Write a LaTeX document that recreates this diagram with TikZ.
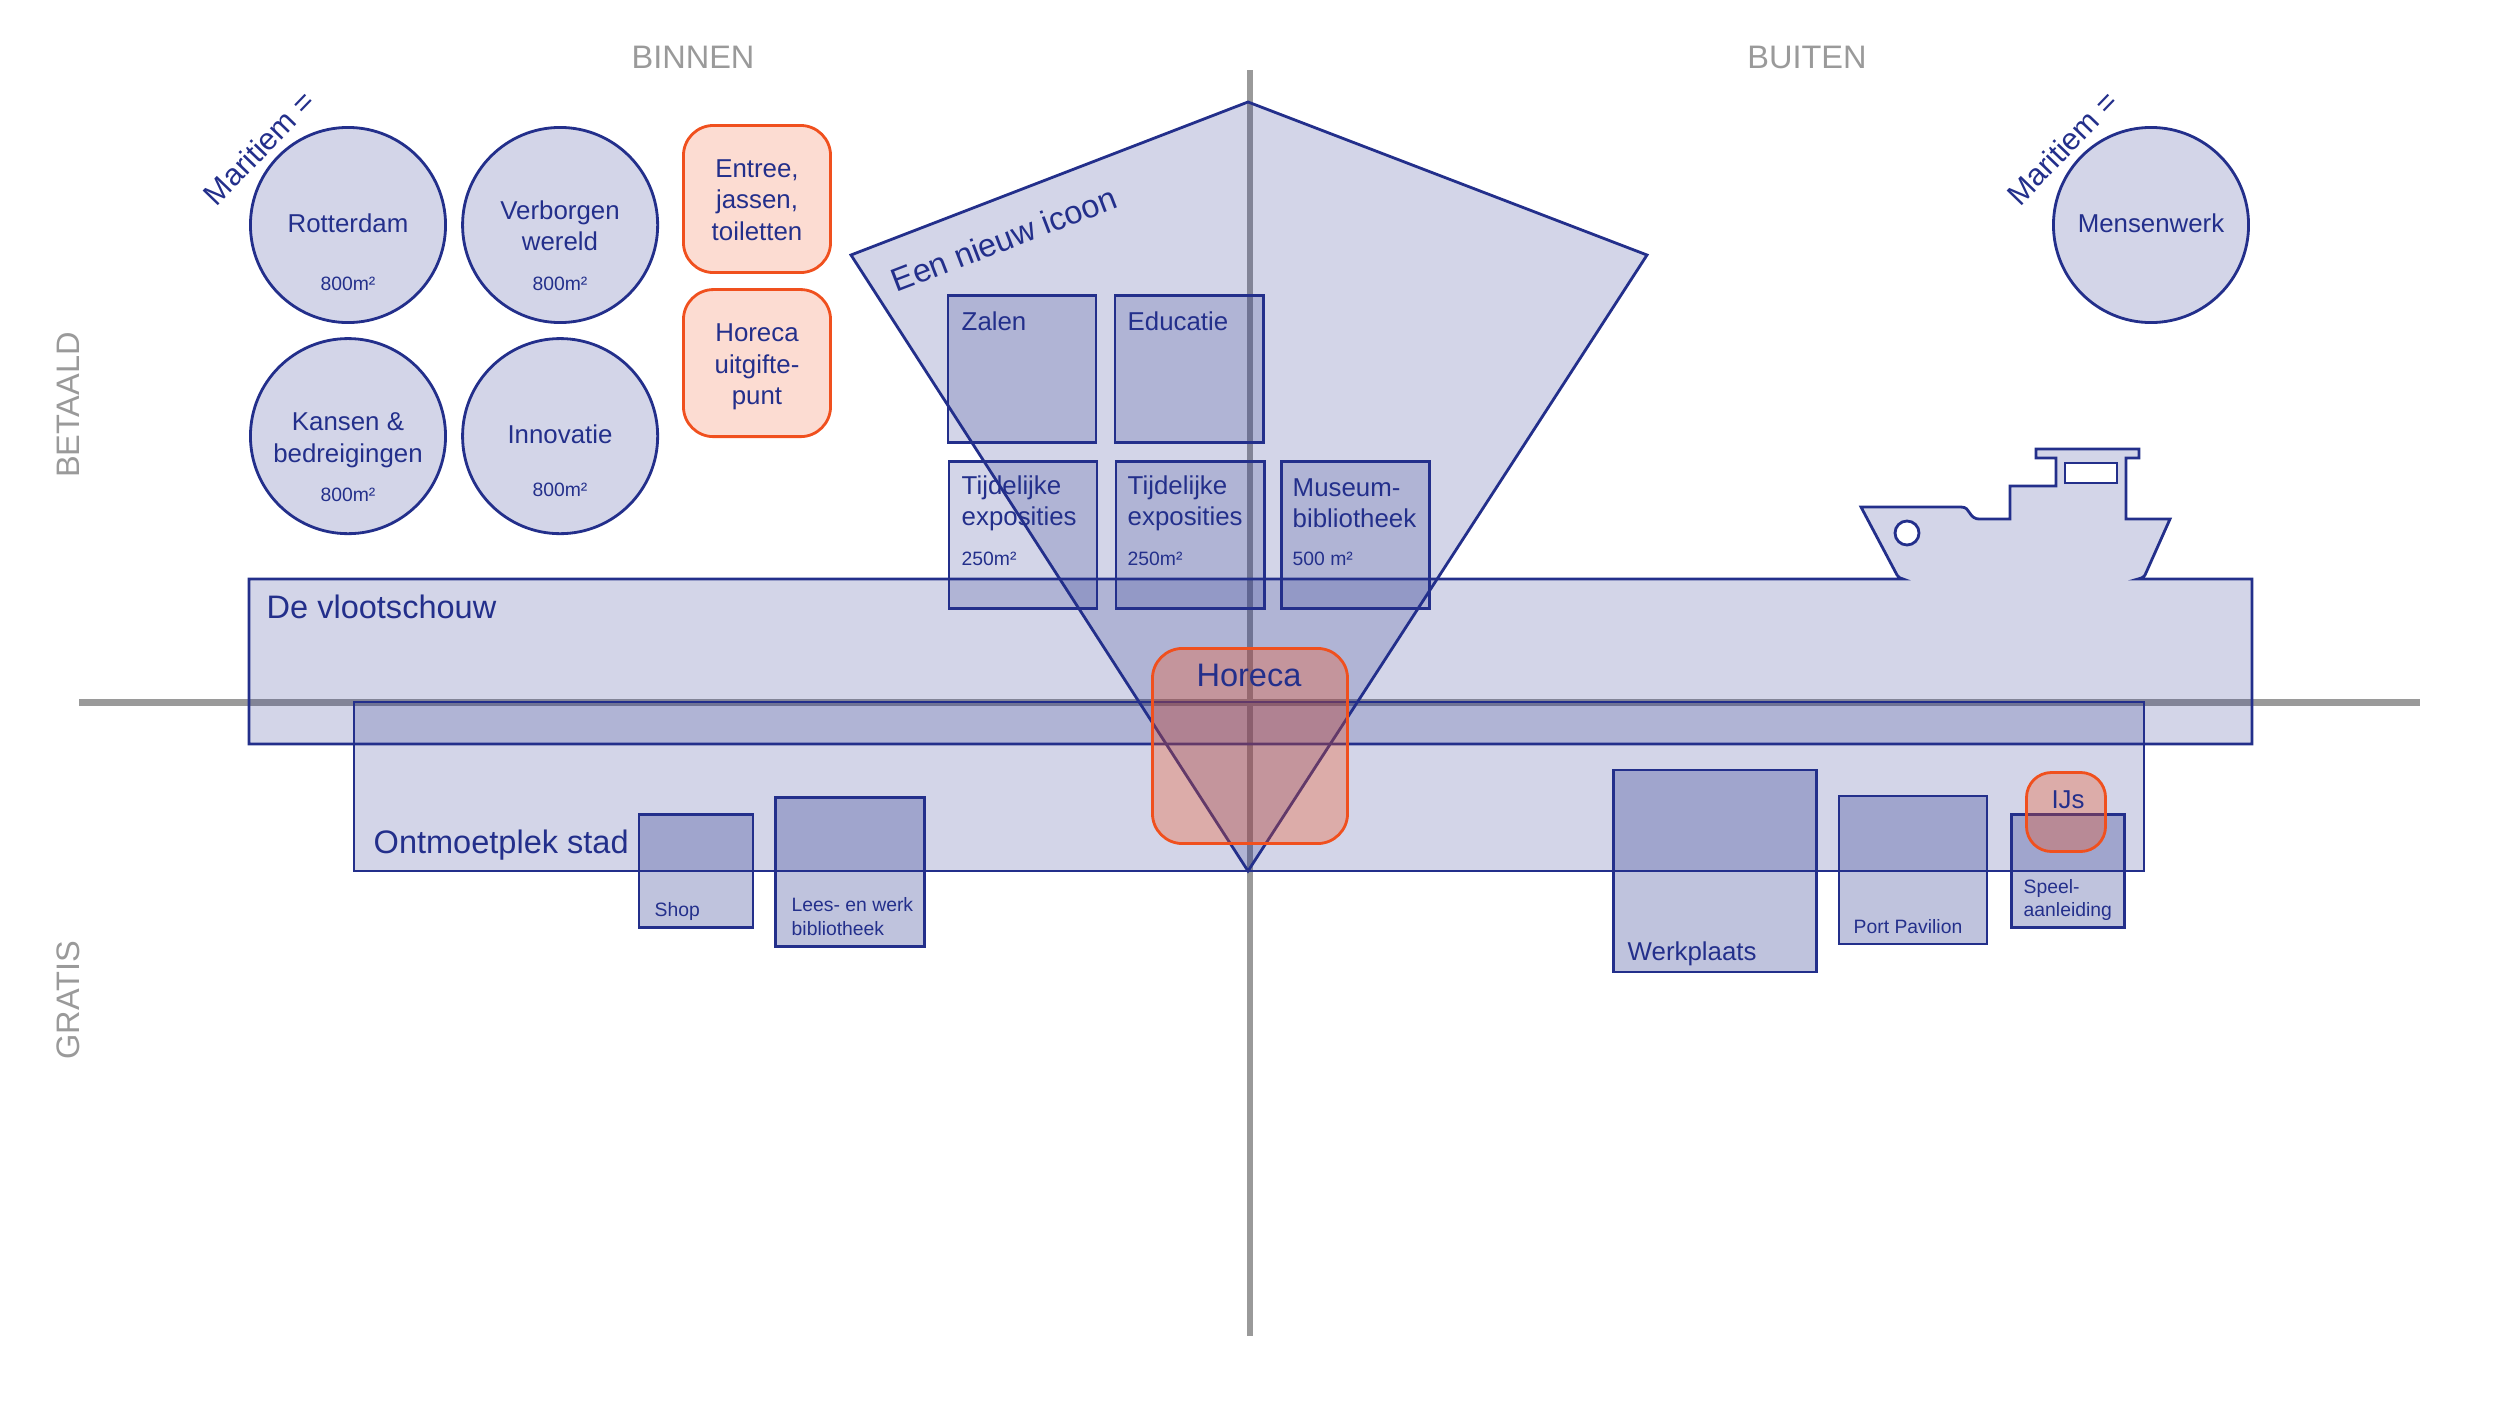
\documentclass[tikz,border=0pt]{standalone}
\usepackage{fontspec}
\setmainfont{Liberation Sans}
\usepackage{xcolor}
\usetikzlibrary{positioning}
\definecolor{navy}{HTML}{232F8B}
\definecolor{oranje}{HTML}{F0501E}
\definecolor{as}{HTML}{9A9A9A}
\begin{document}
\begin{tikzpicture}[x=0.01cm,y=-0.01cm,
v/.style={draw=navy,line width=.8pt,fill=navy,fill opacity=.2,text opacity=1,line join=miter},
c/.style={v,circle,minimum size=1.95cm,inner sep=0pt,outer sep=0pt},
b/.style={v,rectangle,minimum width=1.48cm,minimum height=1.47cm,inner sep=0pt,outer sep=0pt},
g/.style={b,fill opacity=.29},
o/.style={draw=oranje,line width=.8pt,fill=oranje,fill opacity=.2,text opacity=1,rounded corners=.3cm,minimum width=1.47cm,minimum height=1.47cm,inner sep=0pt,outer sep=0pt},
h/.style={o,fill opacity=.31},
t/.style={text=navy,inner sep=0pt,align=left,anchor=west,font=\fontsize{7.35}{8.8}\selectfont},
zt/.style={t,align=center,anchor=center,font=\fontsize{7.35}{8.95}\selectfont},
k/.style={text=navy,inner sep=0pt,align=left,anchor=west,font=\fontsize{5.5}{6.8}\selectfont},
l/.style={text=navy,inner sep=0pt,anchor=west,font=\fontsize{9.25}{11}\selectfont},
m/.style={text=navy,inner sep=0pt,font=\fontsize{8.7}{10}\selectfont,rotate=46},
a/.style={text=as,inner sep=0pt,font=\fontsize{9.25}{11}\selectfont}]
\useasboundingbox (0,0) rectangle (2500,1406);
\coordinate (al) at (79,702.3); \coordinate (ar) at (2420,702.3);
\coordinate (at) at (1250,70); \coordinate (ab) at (1250,1336);
\draw[as,line width=1.85pt] (al)--(ar); \draw[as,line width=1.85pt] (at)--(ab);
\node[a] (binnen) at (693,57) {BINNEN};
\node[a] (buiten) at (1807,57) {BUITEN};
\node[a,rotate=90] (betaald) at (68,405) {BETAALD};
\node[a,rotate=90] (gratis) at (68,1000) {GRATIS};
\draw[v] (249,579)--(1903,579) .. controls (1900,578) and (1899,578) .. (1897,575)--(1861,507)--(1961,507) .. controls (1966,507) and (1968,510) .. (1969,512) .. controls (1972,517) and (1975,519) .. (1979,519)--(2010,519)--(2010,486)--(2056,486)--(2056,458)--(2036,458)--(2036,449)--(2139,449)--(2139,458)--(2126,458)--(2126,519)--(2170,519)--(2145,575) .. controls (2144,577) and (2142,578) .. (2138,579)--(2252,579)--(2252,744)--(249,744)--cycle;
\node[draw=navy,line width=.8pt,fill=white,circle,minimum size=.24cm,inner sep=0pt] (patrijs) at (1907,533) {};
\node[draw=navy,line width=.8pt,fill=white,minimum width=.52cm,minimum height=.2cm,inner sep=0pt] (raam) at (2091,473) {};
\draw[v] (354,702) rectangle (2144,871);
\draw[v] (851,255)--(1248,102)--(1647,255)--(1248,871)--cycle;
\node[c] (rotterdam) at (348,225) {};
\node[c,right=.17cm of rotterdam] (verborgen) {};
\node[c,below=.16cm of rotterdam] (kansen) {};
\node[c,right=.17cm of kansen] (innovatie) {};
\node[c] (mensenwerk) at (2151,225) {};
\node[o] (entree) at (757,199) {};
\node[o,below=.17cm of entree] (uitgifte) {};
\node[b] (zalen) at (1022,369) {};
\node[b,right=.19cm of zalen] (educatie) {};
\node[b] (tijd1) at (1023,535) {};
\node[b,right=.19cm of tijd1] (tijd2) {};
\node[b,right=.17cm of tijd2] (museum) {};
\node[g,minimum width=1.14cm,minimum height=1.13cm] (shop) at (696,871) {};
\node[g,minimum width=1.49cm,minimum height=1.49cm] (lees) at (850,872) {};
\node[g,minimum width=2.03cm,minimum height=2.02cm] (werkplaats) at (1715,871) {};
\node[g,minimum height=1.48cm] (port) at (1913,870) {};
\node[g,minimum width=1.13cm,minimum height=1.13cm] (speel) at (2068,871) {};
\node[h,minimum width=1.95cm,minimum height=1.95cm] (horeca) at (1250,746) {};
\node[h,rounded corners=.25cm,minimum width=.79cm,minimum height=.79cm] (ijs) at (2066,812) {};
\node[zt] (rotterdamt) at (348,223.5) {Rotterdam};
\node[zt] (verborgent) at (560,226) {Verborgen\\wereld};
\node[zt] (kansent) at (348,440) {Kansen \&\\bedreigingen};
\node[zt] (innovatiet) at (560,434) {Innovatie};
\node[zt] (mensenwerkt) at (2151,223.5) {Mensenwerk};
\node[zt] (entreet) at (757,200) {Entree,\\jassen,\\toiletten};
\node[zt] (uitgiftet) at (757,367) {Horeca\\uitgifte-\\punt};
\node[t] (zalent) at (961,321) {Zalen};
\node[t] (educatiet) at (1127,321) {Educatie};
\node[t] (tijd1t) at (961,503.5) {Tijdelijke\\exposities};
\node[t] (tijd2t) at (1127,503.5) {Tijdelijke\\exposities};
\node[t] (museumt) at (1292,503.5) {Museum-\\bibliotheek};
\node[k] (tijd1m) at (961,559) {250m²};
\node[k] (tijd2m) at (1127,559) {250m²};
\node[k] (museumm) at (1292,559) {500 m²};
\node[k,anchor=center] (rotterdamm) at (348,284) {800m²};
\node[k,anchor=center] (verborgenm) at (560,284) {800m²};
\node[k,anchor=center] (kansenm) at (348,495) {800m²};
\node[k,anchor=center] (innovatiem) at (560,490) {800m²};
\node[l] (vloot) at (266,607) {De vlootschouw};
\node[l] (stad) at (373,845) {Ontmoetplek stad};
\node[l,anchor=center] (horecat) at (1249,675) {Horeca};
\node[l,anchor=center,rotate=21] (icoon) at (1004,239) {Een nieuw icoon};
\node[m] (maritiem1) at (259,148) {Maritiem =};
\node[m] (maritiem2) at (2062,148) {Maritiem =};
\node[k] (shopt) at (654,911) {Shop};
\node[k] (leest) at (791,917) {Lees- en werk\\bibliotheek};
\node[t] (werkplaatst) at (1627,954) {Werkplaats};
\node[k] (portt) at (1853,927) {Port Pavilion};
\node[k] (speelt) at (2023,900) {Speel-\\aanleiding};
\node[t,anchor=center] (ijst) at (2068,800) {IJs};
\end{tikzpicture}
\end{document}
